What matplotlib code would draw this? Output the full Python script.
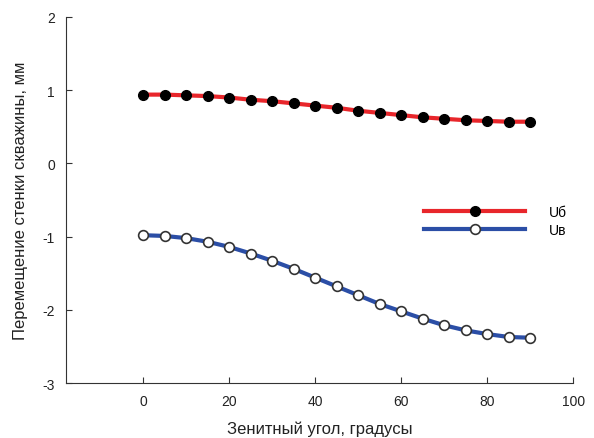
import matplotlib
matplotlib.use("Agg")
from matplotlib import pyplot as plt

plt.rcParams["font.family"] = ["Liberation Sans", "DejaVu Sans"]
plt.rcParams["axes.unicode_minus"] = False

# Zenith angle, degrees
angles = [0, 5, 10, 15, 20, 25, 30, 35, 40, 45, 50, 55, 60, 65, 70, 75, 80, 85, 90]
# Wall displacement, mm
u_b = [0.94, 0.94, 0.93, 0.92, 0.90, 0.87, 0.85, 0.82, 0.79, 0.76, 0.72, 0.69,
       0.66, 0.63, 0.61, 0.59, 0.58, 0.57, 0.57]
u_v = [-0.98, -0.99, -1.02, -1.07, -1.14, -1.23, -1.33, -1.44, -1.56, -1.68,
       -1.80, -1.92, -2.02, -2.12, -2.21, -2.28, -2.33, -2.37, -2.38]
labels = ["Uб", "Uв"]

fig = plt.figure(figsize=(5.94, 4.39), dpi=100)
ax = fig.add_axes([0.111, 0.125, 0.854, 0.834])

ax.plot(angles, u_b, color="#e8262b", lw=3, marker="o", ms=7,
        mfc="black", mec="black", label=labels[0])
ax.plot(angles, u_v, color="#2b4ea6", lw=3, marker="o", ms=7,
        mfc="white", mec="#333333", mew=1.2, label=labels[1])

ax.set_xlim(-18, 100)
ax.set_ylim(-3, 2)
ax.set_xticks([0, 20, 40, 60, 80, 100])
ax.set_yticks([-3, -2, -1, 0, 1, 2])
ax.tick_params(direction="in", length=4, labelsize=10, pad=8, color="#333333",
               labelcolor="#222222")
for side in ["top", "right"]:
    ax.spines[side].set_visible(False)
for side in ["left", "bottom"]:
    ax.spines[side].set_color("#333333")

ax.set_xlabel("Зенитный угол, градусы", fontsize=12, labelpad=9, color="#222222")
ax.set_ylabel("Перемещение стенки скважины, мм", fontsize=12, labelpad=10,
              color="#222222")

ax.legend(loc="upper left", bbox_to_anchor=(0.692, 0.505), frameon=False,
          handlelength=7.3, fontsize=10, labelspacing=0.3, handletextpad=1.7,
          borderpad=0)

fig.savefig("out.png", dpi=100)
